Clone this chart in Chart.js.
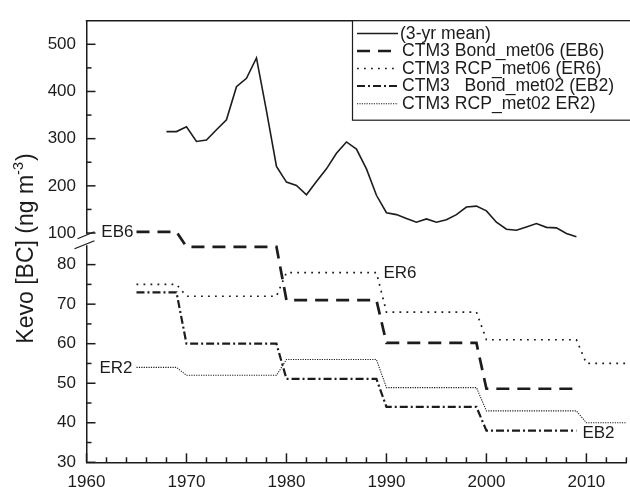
<!DOCTYPE html>
<html>
<head>
<meta charset="utf-8">
<script src="https://cdn.jsdelivr.net/npm/chart.js@4.4.1/dist/chart.umd.min.js"></script>
<style>
  html, body { margin: 0; padding: 0; background: #fff; }
  #wrap { width: 630px; height: 487px; }
</style>
</head>
<body>
<div id="wrap"><canvas id="c" width="630" height="487"></canvas></div>
<script>
// Kevo black carbon: observed 3-yr running mean and CTM3 model runs
const meanYears = [1968, 1969, 1970, 1971, 1972, 1973, 1974, 1975, 1976, 1977, 1978, 1979,
  1980, 1981, 1982, 1983, 1984, 1985, 1986, 1987, 1988, 1989, 1990, 1991, 1992, 1993,
  1994, 1995, 1996, 1997, 1998, 1999, 2000, 2001, 2002, 2003, 2004, 2005, 2006, 2007,
  2008, 2009];
const meanValues = [315, 315, 325, 294, 297, 319, 340, 410, 428, 471, 359, 241,
  208, 201, 181, 209, 236, 269, 293, 278, 236, 180, 143, 139, 131, 123,
  130, 123, 128, 139, 155, 157, 147, 123, 108, 106, 113, 120, 112, 111,
  99, 92];

// decade steps of the model runs (corner years of each step)
const modelYears = [1965, 1969, 1970, 1979, 1980, 1989, 1990, 1999, 2000, 2009, 2010, 2014];
const eb6Values = [88.3, 88.3, 84.5, 84.5, 71, 71, 60.2, 60.2, 48.6, 48.6];
const er6Values = [75, 75, 72, 72, 78, 78, 68, 68, 61, 61, 55, 55];
const eb2Values = [73, 73, 60, 60, 51.1, 51.1, 44, 44, 38, 38];
const er2Values = [54, 54, 52, 52, 56, 56, 48.9, 48.9, 43, 43, 40, 40];

const seriesLabels = [
  '(3-yr mean)',
  'CTM3 Bond_met06 (EB6)',
  'CTM3 RCP_met06 (ER6)',
  'CTM3   Bond_met02 (EB2)',
  'CTM3 RCP_met02 ER2)'
];

const xTickValues = [1960, 1970, 1980, 1990, 2000, 2010];
const xMinorTicks = [1962, 1964, 1966, 1968, 1972, 1974, 1976, 1978, 1982, 1984, 1986, 1988,
  1992, 1994, 1996, 1998, 2002, 2004, 2006, 2008, 2012, 2014];
const upperTickValues = [100, 200, 300, 400, 500];
const upperMinorTicks = [150, 250, 350, 450];
const lowerTickValues = [30, 40, 50, 60, 70, 80];
const lowerMinorTicks = [35, 45, 55, 65, 75];

const INK = '#1c1c1c';
const FONT = '"Liberation Sans", Arial, Helvetica, sans-serif';

function points(xs, ys) {
  return ys.map((v, i) => ({ x: xs[i], y: v }));
}

function lineDataset(label, data, axis, width, dash) {
  return {
    label: label,
    data: data,
    yAxisID: axis,
    borderColor: INK,
    backgroundColor: INK,
    borderWidth: width,
    borderDash: dash,
    borderCapStyle: 'butt',
    pointRadius: 0,
    tension: 0,
    fill: false,
    clip: false
  };
}

const datasets = [
  lineDataset(seriesLabels[0], points(meanYears, meanValues), 'yTop', 1.6, []),
  lineDataset(seriesLabels[1], points(modelYears, eb6Values), 'yBot', 2.7, [13, 8]),
  lineDataset(seriesLabels[2], points(modelYears, er6Values), 'yBot', 1.7, [1.8, 5.2]),
  lineDataset(seriesLabels[3], points(modelYears, eb2Values), 'yBot', 2.2, [8, 3, 2, 3]),
  lineDataset(seriesLabels[4], points(modelYears, er2Values), 'yBot', 1.1, [1.2, 1.2])
];

function fixTicks(values) {
  return function (scale) {
    scale.ticks = values.map(v => ({ value: v }));
  };
}

// inward tick marks, top frame line, axis break, in-plot labels, legend, y title
const decorations = {
  id: 'decorations',
  afterDraw(chart) {
    const ctx = chart.ctx;
    const a = chart.chartArea;
    const xs = chart.scales.x, yT = chart.scales.yTop, yB = chart.scales.yBot;
    ctx.save();
    ctx.strokeStyle = INK;
    ctx.fillStyle = INK;
    ctx.lineWidth = 1.5;
    ctx.setLineDash([]);

    const seg = (x1, y1, x2, y2) => {
      ctx.beginPath(); ctx.moveTo(x1, y1); ctx.lineTo(x2, y2); ctx.stroke();
    };

    // top frame line
    seg(a.left - 0.75, a.top, chart.width, a.top);

    // x ticks (pointing up into the plot)
    xTickValues.forEach(v => { const p = xs.getPixelForValue(v); seg(p, a.bottom, p, a.bottom - 9); });
    xMinorTicks.forEach(v => { const p = xs.getPixelForValue(v); seg(p, a.bottom, p, a.bottom - 5); });
    // y ticks (pointing right into the plot)
    upperTickValues.forEach(v => { const p = yT.getPixelForValue(v); seg(a.left, p, a.left + 9, p); });
    upperMinorTicks.forEach(v => { const p = yT.getPixelForValue(v); seg(a.left, p, a.left + 5, p); });
    lowerTickValues.forEach(v => { const p = yB.getPixelForValue(v); seg(a.left, p, a.left + 9, p); });
    lowerMinorTicks.forEach(v => { const p = yB.getPixelForValue(v); seg(a.left, p, a.left + 5, p); });

    // axis break between the two value ranges
    const yb = yB.top;
    ctx.fillStyle = '#fff';
    ctx.fillRect(a.left - 3, yb - 3.5, 6, 11);
    ctx.fillStyle = INK;
    ctx.lineWidth = 1.3;
    seg(a.left - 9, yb + 1, a.left + 8, yb - 6);
    seg(a.left - 12, yb + 11, a.left + 8, yb + 3);

    // series labels next to the model lines
    ctx.font = '17px ' + FONT;
    ctx.textBaseline = 'middle';
    const x1965 = xs.getPixelForValue(modelYears[0]);
    ctx.textAlign = 'right';
    ctx.fillText('EB6', x1965 - 3, yB.getPixelForValue(eb6Values[0]) + 0.5);
    ctx.fillText('ER2', x1965 - 4, yB.getPixelForValue(er2Values[0]) + 0.5);
    ctx.textAlign = 'left';
    ctx.fillText('ER6', xs.getPixelForValue(modelYears[5]) + 7, yB.getPixelForValue(er6Values[5]) + 1);
    ctx.fillText('EB2', xs.getPixelForValue(modelYears[9]) + 6, yB.getPixelForValue(eb2Values[9]) + 3);

    // legend box
    const lx = 352.5, ly = a.top, lw = 300, lh = 99.5;
    ctx.lineWidth = 1.2;
    ctx.strokeStyle = INK;
    ctx.fillStyle = '#fff';
    ctx.fillRect(lx, ly, lw, lh);
    ctx.strokeRect(lx, ly, lw, lh);
    ctx.fillStyle = INK;
    const rowY = [33.5, 51, 68.5, 86, 103.8];
    chart.data.datasets.forEach((ds, i) => {
      ctx.save();
      ctx.lineWidth = ds.borderWidth;
      ctx.setLineDash(ds.borderDash);
      ctx.lineCap = 'butt';
      ctx.beginPath();
      ctx.moveTo(357, rowY[i]);
      ctx.lineTo(398, rowY[i]);
      ctx.stroke();
      ctx.restore();
      ctx.textAlign = 'left';
      ctx.textBaseline = 'middle';
      ctx.font = '17.6px ' + FONT;
      ctx.fillText(ds.label, i === 0 ? 400 : 402, rowY[i] + 0.5);
    });

    // y axis title with superscript
    ctx.save();
    ctx.translate(32.5, 249);
    ctx.rotate(-Math.PI / 2);
    ctx.textBaseline = 'alphabetic';
    ctx.textAlign = 'left';
    const mainFont = '23px ' + FONT, supFont = '14.5px ' + FONT;
    const t1 = 'Kevo [BC] (ng m', t2 = '-3', t3 = ')';
    ctx.font = mainFont; const w1 = ctx.measureText(t1).width; const w3 = ctx.measureText(t3).width;
    ctx.font = supFont; const w2 = ctx.measureText(t2).width;
    let sx = -(w1 + w2 + w3) / 2;
    ctx.font = mainFont; ctx.fillText(t1, sx, 0); sx += w1;
    ctx.font = supFont; ctx.fillText(t2, sx, -9.5); sx += w2;
    ctx.font = mainFont; ctx.fillText(t3, sx + 1, 0);
    ctx.restore();

    ctx.restore();
  }
};

const tickFont = { family: FONT, size: 17 };

new Chart(document.getElementById('c'), {
  type: 'line',
  data: { datasets: datasets },
  options: {
    responsive: false,
    animation: false,
    events: [],
    layout: { padding: { top: 15.7, right: 3.6, bottom: 0, left: 0 } },
    plugins: { legend: { display: false }, tooltip: { enabled: false } },
    scales: {
      x: {
        type: 'linear',
        position: 'bottom',
        min: 1960,
        max: 2014,
        afterBuildTicks: fixTicks(xTickValues),
        afterFit: s => { s.height = 24.7; },
        grid: { display: false, drawTicks: false },
        border: { display: true, color: INK, width: 1.5 },
        ticks: { color: INK, font: tickFont, padding: 9.5, maxRotation: 0,
          callback: v => String(v) }
      },
      // lower range (model runs), listed first so it sits below the upper range
      yBot: {
        type: 'linear',
        position: 'left',
        stack: 'kevo',
        stackWeight: 227.1,
        min: 30,
        max: 86.8,
        afterBuildTicks: fixTicks(lowerTickValues),
        afterFit: s => { s.width = 86.5; },
        grid: { display: false, drawTicks: false },
        border: { display: true, color: INK, width: 1.5 },
        ticks: { color: INK, font: tickFont, padding: 10.5, crossAlign: 'near',
          callback: v => String(v) }
      },
      // upper range (observations)
      yTop: {
        type: 'linear',
        position: 'left',
        stack: 'kevo',
        stackWeight: 219.5,
        min: 90,
        max: 550,
        afterBuildTicks: fixTicks(upperTickValues),
        afterFit: s => { s.width = 86.5; },
        grid: { display: false, drawTicks: false },
        border: { display: true, color: INK, width: 1.5 },
        ticks: { color: INK, font: tickFont, padding: 10.5, crossAlign: 'near',
          callback: v => String(v) }
      }
    }
  },
  plugins: [decorations]
});
</script>
</body>
</html>
